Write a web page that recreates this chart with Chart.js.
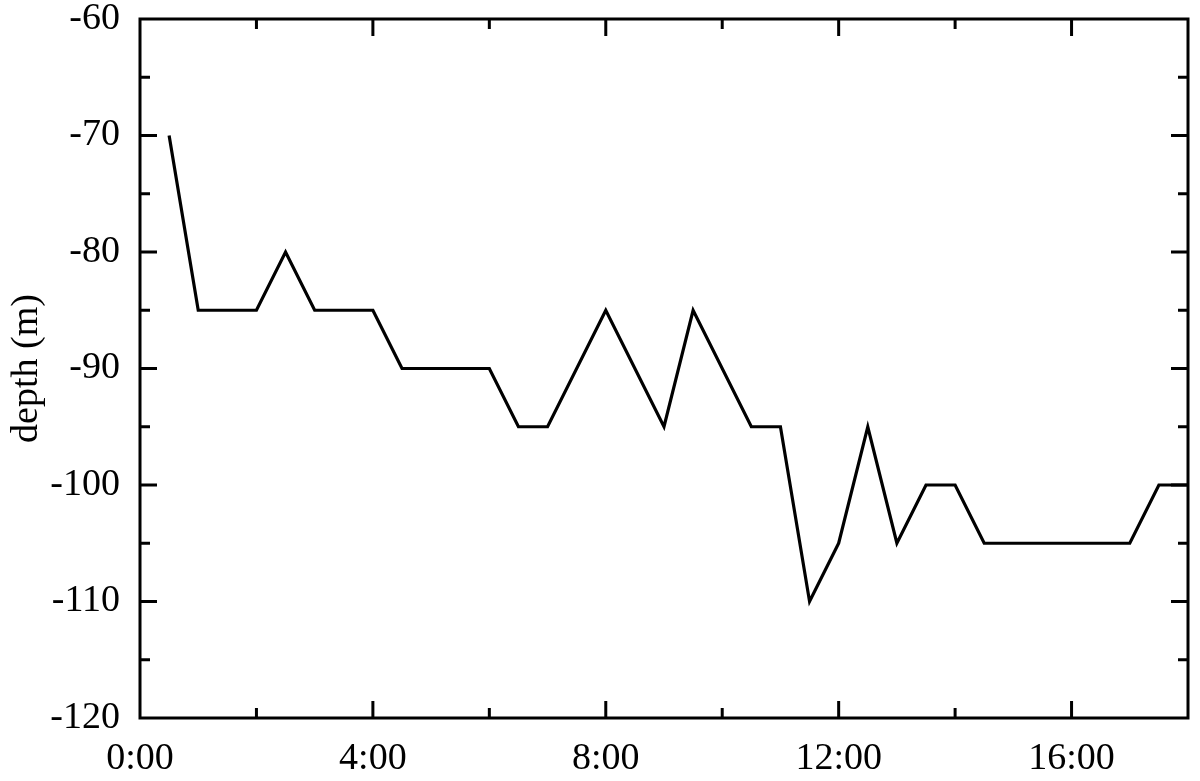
<!DOCTYPE html>
<html>
<head>
<meta charset="utf-8">
<title>depth</title>
<script src="https://cdn.jsdelivr.net/npm/chart.js@4.4.1/dist/chart.umd.min.js"></script>
<style>
	html, body { margin: 0; padding: 0; background: #fff; }
	#wrap { width: 1200px; height: 781px; }
</style>
</head>
<body>
<div id="wrap"><canvas id="chart"></canvas></div>
<script>
"use strict";

// Time in hours since 0:00
var hours = [ 0.5, 1, 2, 2.5, 3, 4, 4.5, 6, 6.5, 7, 8, 9, 9.5, 10.5, 11, 11.5, 12, 12.5, 13, 13.5, 14, 14.5, 17, 17.5, 18 ];
// Depth in metres
var depths = [ -70, -85, -85, -80, -85, -85, -90, -90, -95, -95, -85, -95, -85, -95, -95, -110, -105, -95, -105, -100, -100, -105, -105, -100, -100 ];

var xLabels = [ 0, 4, 8, 12, 16 ];
var yLabels = [ -120, -110, -100, -90, -80, -70, -60 ];

var fontFamily = "'Liberation Serif', 'Times New Roman', serif";

// Box around the plot with inward ticks on all four sides
var frame = {
	id: "frame",
	afterDraw: function( chart ) {
		var ctx = chart.ctx,
			area = chart.chartArea,
			xs = chart.scales.x,
			ys = chart.scales.y,
			major = 17, minor = 10, v, px, len;

		ctx.save();
		ctx.strokeStyle = "#000";
		ctx.lineWidth = 3;
		ctx.lineCap = "butt";

		for ( v = 2; v < 18; v += 2 ) {
			px = xs.getPixelForValue( v );
			len = xLabels.includes( v ) ? major : minor;
			ctx.beginPath();
			ctx.moveTo( px, area.bottom );
			ctx.lineTo( px, area.bottom - len );
			ctx.moveTo( px, area.top );
			ctx.lineTo( px, area.top + len );
			ctx.stroke();
		}
		for ( v = -115; v < -60; v += 5 ) {
			px = ys.getPixelForValue( v );
			len = yLabels.includes( v ) ? major : minor;
			ctx.beginPath();
			ctx.moveTo( area.left, px );
			ctx.lineTo( area.left + len, px );
			ctx.moveTo( area.right, px );
			ctx.lineTo( area.right - len, px );
			ctx.stroke();
		}

		ctx.strokeRect( area.left, area.top, area.right - area.left, area.bottom - area.top );
		ctx.restore();
	}
};

new Chart( document.getElementById( "chart" ), {
	type: "line",
	data: {
		datasets: [ {
			label: "depth",
			data: hours.map( function( h, i ) { return { x: h, y: depths[ i ] }; } ),
			borderColor: "#000",
			borderWidth: 3.2,
			pointRadius: 0,
			tension: 0,
			fill: false
		} ]
	},
	options: {
		responsive: true,
		maintainAspectRatio: false,
		animation: false,
		layout: { padding: { top: 19, right: 12, left: 0, bottom: 0 } },
		plugins: {
			legend: { display: false },
			tooltip: { enabled: false }
		},
		scales: {
			x: {
				type: "linear",
				min: 0,
				max: 18,
				afterFit: function( scale ) {
					scale.height = 63;
					scale.paddingLeft = 0;
					scale.paddingRight = 0;
				},
				grid: { display: false, drawTicks: false },
				border: { display: false },
				ticks: {
					stepSize: 4,
					padding: 18,
					color: "#000",
					maxRotation: 0,
					font: { family: fontFamily, size: 38 },
					callback: function( value ) {
						return xLabels.includes( value ) ? value + ":00" : "";
					}
				}
			},
			y: {
				min: -120,
				max: -60,
				afterFit: function( scale ) {
					scale.width = 140;
					scale.paddingTop = 0;
					scale.paddingBottom = 0;
				},
				grid: { display: false, drawTicks: false },
				border: { display: false },
				ticks: {
					stepSize: 10,
					padding: 20,
					color: "#000",
					font: { family: fontFamily, size: 38 }
				},
				title: {
					display: true,
					text: "depth (m)",
					color: "#000",
					padding: { top: 4, bottom: 0 },
					font: { family: fontFamily, size: 38 }
				}
			}
		}
	},
	plugins: [ frame ]
} );
</script>
</body>
</html>
